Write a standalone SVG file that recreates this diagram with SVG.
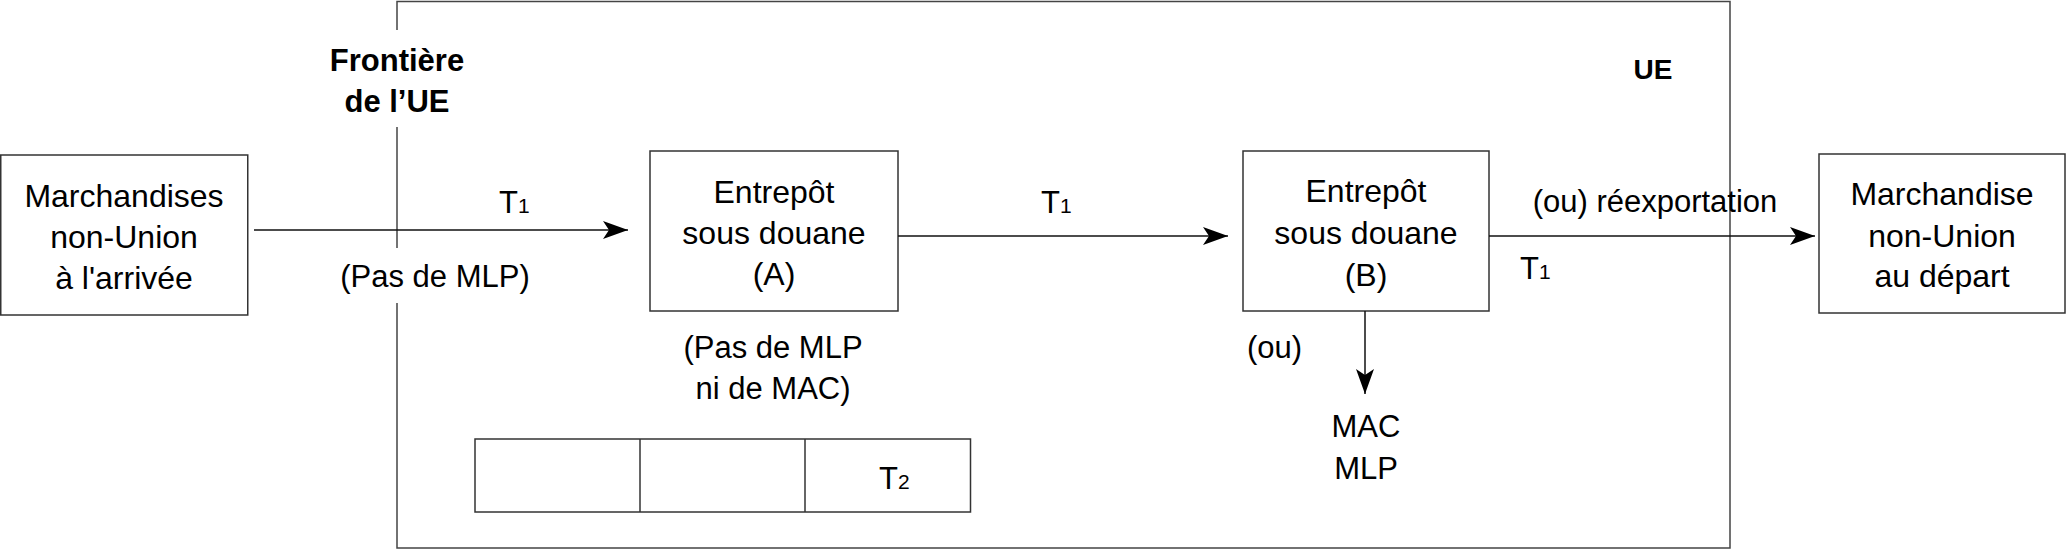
<svg xmlns="http://www.w3.org/2000/svg" width="2067" height="551" viewBox="0 0 2067 551">
<style>
  .box { fill: #ffffff; stroke: #333333; stroke-width: 1.5; }
  .ue { fill: none; stroke: #444444; stroke-width: 1.5; }
  .edge { fill: none; stroke: #111111; stroke-width: 1.5; }
  text { font-family: "Liberation Sans", Arial, sans-serif; fill: #000000; }
  .t { font-size: 32px; text-anchor: middle; }
  .l { font-size: 31px; }
  .b { font-size: 31px; font-weight: bold; text-anchor: middle; }
  .sub { font-size: 21px; }
</style>
<defs>
  <marker id="arrow" markerUnits="userSpaceOnUse" markerWidth="26" markerHeight="18" refX="25" refY="9" orient="auto">
    <path d="M0,0 L25,9 L0,18 L6,9 Z" fill="#000000"/>
  </marker>
</defs>

<g id="ue-zone">
  <path class="ue" d="M397,30 V1.5 H1730 V548 H397 V303"/>
  <path class="ue" d="M397,127 V248"/>
  <text class="b" x="397" y="71">Frontière</text>
  <text class="b" x="397" y="112">de l’UE</text>
  <text class="b" x="1653" y="79" style="font-size:28px">UE</text>
</g>

<g id="arrivee">
  <rect class="box" x="0.75" y="155" width="247" height="160"/>
  <text class="t" x="124" y="207">Marchandises</text>
  <text class="t" x="124" y="248">non-Union</text>
  <text class="t" x="124" y="289">à l'arrivée</text>
</g>

<g id="entrepot-a">
  <rect class="box" x="650" y="151" width="248" height="160"/>
  <text class="t" x="774" y="203">Entrepôt</text>
  <text class="t" x="774" y="244">sous douane</text>
  <text class="t" x="774" y="285">(A)</text>
  <text class="t" x="773" y="358" style="font-size:31px">(Pas de MLP</text>
  <text class="t" x="773" y="399" style="font-size:31px">ni de MAC)</text>
</g>

<g id="entrepot-b">
  <rect class="box" x="1243" y="151" width="246" height="160"/>
  <text class="t" x="1366" y="202">Entrepôt</text>
  <text class="t" x="1366" y="244">sous douane</text>
  <text class="t" x="1366" y="286">(B)</text>
</g>

<g id="depart">
  <rect class="box" x="1819" y="154" width="246" height="159"/>
  <text class="t" x="1942" y="205">Marchandise</text>
  <text class="t" x="1942" y="247">non-Union</text>
  <text class="t" x="1942" y="287">au départ</text>
</g>

<g id="mac-mlp">
  <text class="t" x="1366" y="437" style="font-size:31px">MAC</text>
  <text class="t" x="1366" y="479" style="font-size:31px">MLP</text>
</g>

<g id="t2-table">
  <rect class="box" x="475" y="439" width="495.5" height="73"/>
  <line class="box" x1="640" y1="439" x2="640" y2="512"/>
  <line class="box" x1="805" y1="439" x2="805" y2="512"/>
  <text class="l" x="879" y="489">T<tspan class="sub">2</tspan></text>
</g>

<g id="connectors">
  <line class="edge" x1="254" y1="230" x2="628" y2="230" marker-end="url(#arrow)"/>
  <line class="edge" x1="898" y1="236" x2="1228" y2="236" marker-end="url(#arrow)"/>
  <line class="edge" x1="1489" y1="236" x2="1815" y2="236" marker-end="url(#arrow)"/>
  <line class="edge" x1="1365" y1="311" x2="1365" y2="394" marker-end="url(#arrow)"/>
  <text class="l" x="499" y="213">T<tspan class="sub">1</tspan></text>
  <text class="t" x="435" y="287" style="font-size:31px">(Pas de MLP)</text>
  <text class="l" x="1041" y="213">T<tspan class="sub">1</tspan></text>
  <text class="t" x="1655" y="212" style="font-size:31px">(ou) réexportation</text>
  <text class="l" x="1520" y="279">T<tspan class="sub">1</tspan></text>
  <text class="l" x="1247" y="358">(ou)</text>
</g>
</svg>
